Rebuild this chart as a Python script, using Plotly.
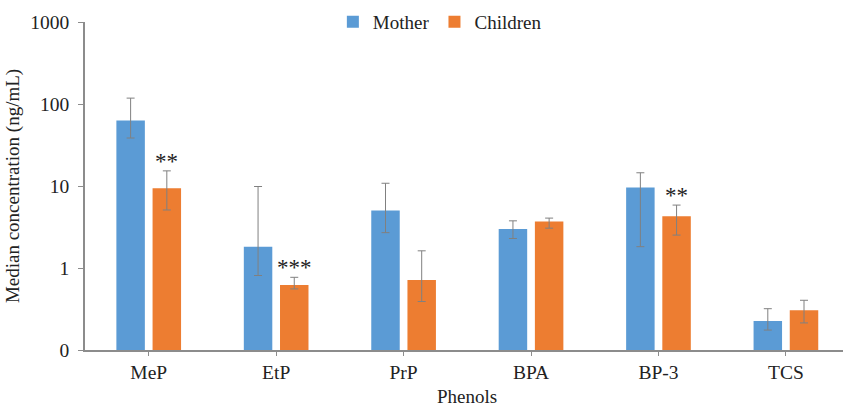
import math
import plotly.graph_objects as go

# Median phenol concentrations (ng/mL) with interquartile-style ranges
phenols = ["MeP", "EtP", "PrP", "BPA", "BP-3", "TCS"]

mother_median = [63.0, 1.82, 5.02, 3.0, 9.6, 0.226]
mother_upper = [118.0, 9.86, 10.8, 3.76, 14.5, 0.319]
mother_lower = [38.5, 0.81, 2.7, 2.29, 1.82, 0.175]

children_median = [9.4, 0.62, 0.716, 3.69, 4.29, 0.305]
children_upper = [15.3, 0.77, 1.62, 4.06, 5.85, 0.404]
children_lower = [5.1, 0.556, 0.39, 3.06, 2.52, 0.214]

# Significance marks for the children series
significance = ["**", "***", "", "", "**", ""]

y_tickvals = [0.1, 1, 10, 100, 1000]
y_ticktext = ["0", "1", "10", "100", "1000"]

BLUE = "#5B9BD5"
ORANGE = "#ED7D31"
GREY = "#808080"
FONT = "Liberation Serif, Times New Roman, serif"
TEXT = "#222222"


def err(median, upper, lower):
    return dict(
        type="data",
        symmetric=False,
        array=[u - m for u, m in zip(upper, median)],
        arrayminus=[m - l for m, l in zip(median, lower)],
        color=GREY,
        thickness=1,
        width=4,
    )


fig = go.Figure()
fig.add_trace(go.Bar(
    name="Mother", x=phenols, y=mother_median,
    marker=dict(color=BLUE, line=dict(width=0)),
    error_y=err(mother_median, mother_upper, mother_lower),
))
fig.add_trace(go.Bar(
    name="Children", x=phenols, y=children_median,
    marker=dict(color=ORANGE, line=dict(width=0)),
    error_y=err(children_median, children_upper, children_lower),
))

for i, mark in enumerate(significance):
    if not mark:
        continue
    fig.add_annotation(
        x=phenols[i], y=math.log10(children_upper[i]),
        xref="x", yref="y", text=mark, showarrow=False,
        xshift=18, yanchor="bottom", yshift=-5,
        font=dict(family=FONT, size=23, color=TEXT),
    )

fig.add_annotation(
    x=(467 - 85) / 758, y=-0.143, xref="paper", yref="paper",
    text="Phenols", showarrow=False, xanchor="center", yanchor="middle",
    font=dict(family=FONT, size=19, color=TEXT),
)

fig.update_layout(
    width=843, height=408,
    margin=dict(l=85, r=0, t=22, b=58),
    paper_bgcolor="white", plot_bgcolor="white",
    font=dict(family=FONT, size=19, color=TEXT),
    barmode="group", bargap=0.432, bargroupgap=0.213,
    showlegend=True,
    legend=dict(
        orientation="h", x=0.327, xanchor="left", y=1.0, yanchor="middle",
        font=dict(family=FONT, size=19, color=TEXT),
        itemwidth=30, bgcolor="rgba(0,0,0,0)",
    ),
    xaxis=dict(
        range=[-0.5, 5.448],
        showline=True, linecolor="#8c8c8c", linewidth=1.5,
        ticks="outside", ticklen=4, tickcolor="#8c8c8c",
        showgrid=False, zeroline=False,
        tickfont=dict(family=FONT, size=19.5, color=TEXT),
    ),
    yaxis=dict(
        type="log", range=[-1, 3],
        tickvals=y_tickvals, ticktext=y_ticktext,
        showline=True, linecolor="#8c8c8c", linewidth=1.5,
        ticks="outside", ticklen=5, tickcolor="#8c8c8c",
        showgrid=False, zeroline=False, ticklabelstandoff=5,
        tickfont=dict(family=FONT, size=19.5, color=TEXT),
        title=dict(text="Median concentration (ng/mL)", standoff=6,
                   font=dict(family=FONT, size=19, color=TEXT)),
    ),
)

fig.write_html("out.html")
